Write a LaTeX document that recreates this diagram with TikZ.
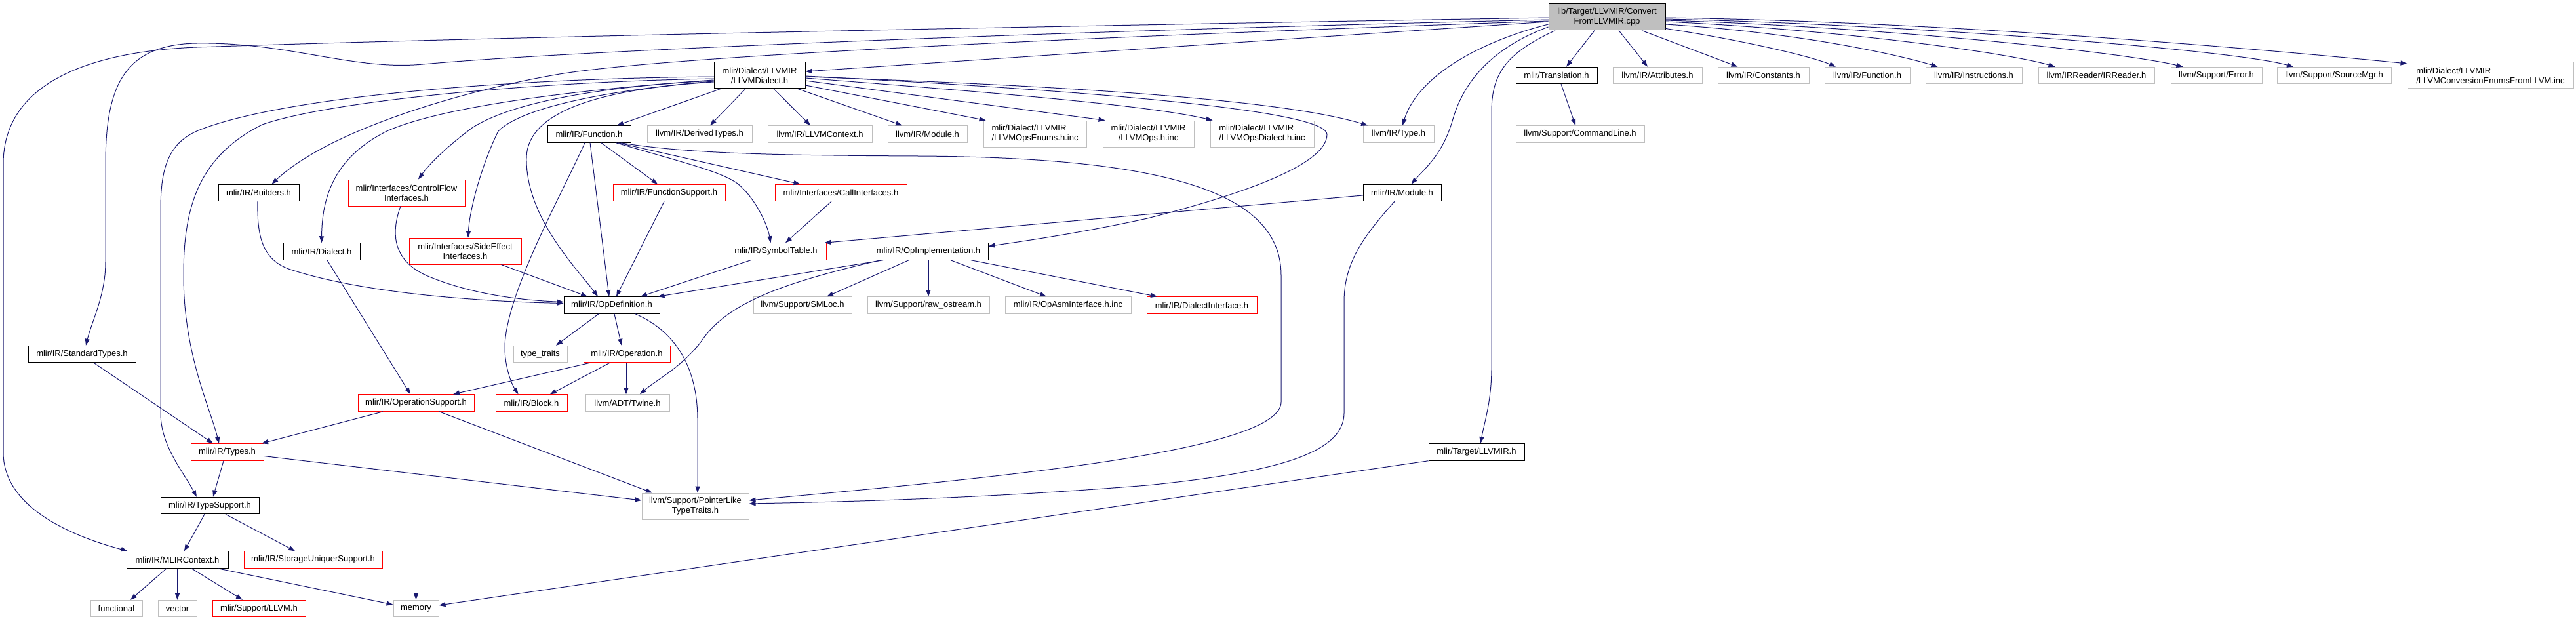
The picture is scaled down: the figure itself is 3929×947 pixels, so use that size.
\documentclass[tikz,border=0pt]{standalone}
\usepackage{fontspec}
\newfontfamily\dfont{Liberation Sans}
\usetikzlibrary{arrows.meta}
\definecolor{mblue}{RGB}{25,25,112}
\definecolor{gborder}{RGB}{191,191,191}
\definecolor{rootfill}{RGB}{191,191,191}
\definecolor{rborder}{RGB}{255,0,0}
\begin{document}
\begin{tikzpicture}[x=1pt,y=-1pt,
 nd/.style={draw, line width=1pt, fill=white, inner sep=0pt, minimum height=25.5pt, font=\dfont\fontsize{13}{15}\selectfont, align=center},
 blknd/.style={nd, draw=black},
 rednd/.style={nd, draw=rborder},
 graynd/.style={nd, draw=gborder},
 rootnd/.style={nd, draw=black, fill=rootfill},
 twoline/.style={minimum height=40pt},
 conn/.style={draw=mblue, line width=1pt, -{Triangle[length=10pt,width=7pt]}},
]
\fill[white] (0,0) rectangle (3929,947);
\useasboundingbox (0,0) rectangle (3929,947);

% row 0
\node[rootnd, twoline, minimum width=178pt] (root) at (2451,26) {lib/Target/LLVMIR/Convert\\FromLLVMIR.cpp};
% row 1
\node[blknd, twoline, minimum width=139pt] (ld) at (1158.5,115) {mlir/Dialect/LLVMIR\\/LLVMDialect.h};
\node[blknd, minimum width=124pt] (transl) at (2374,115) {mlir/Translation.h};
\node[graynd, minimum width=136pt] (attr) at (2528,115) {llvm/IR/Attributes.h};
\node[graynd, minimum width=139pt] (cnst) at (2689.5,115) {llvm/IR/Constants.h};
\node[graynd, minimum width=130pt] (lfunc) at (2848,115) {llvm/IR/Function.h};
\node[graynd, minimum width=147pt] (instr) at (3010.5,115) {llvm/IR/Instructions.h};
\node[graynd, minimum width=177pt] (irr) at (3197.5,115) {llvm/IRReader/IRReader.h};
\node[graynd, minimum width=139pt] (err) at (3380.5,115) {llvm/Support/Error.h};
\node[graynd, minimum width=174pt] (smgr) at (3560,115) {llvm/Support/SourceMgr.h};
\node[graynd, twoline, align=left, minimum width=253pt] (conv) at (3798.5,115) {mlir/Dialect/LLVMIR\\/LLVMConversionEnumsFromLLVM.inc};
% row 2
\node[blknd, minimum width=127pt] (mfunc) at (898.5,204.5) {mlir/IR/Function.h};
\node[graynd, minimum width=160pt] (dtypes) at (1067,204.5) {llvm/IR/DerivedTypes.h};
\node[graynd, minimum width=159pt] (lctx) at (1250.5,204.5) {llvm/IR/LLVMContext.h};
\node[graynd, minimum width=121pt] (lmod) at (1414.5,204.5) {llvm/IR/Module.h};
\node[graynd, twoline, align=left, minimum width=157pt] (openums) at (1578.5,204) {mlir/Dialect/LLVMIR\\/LLVMOpsEnums.h.inc};
\node[graynd, twoline, minimum width=139pt] (ops) at (1751.5,204) {mlir/Dialect/LLVMIR\\/LLVMOps.h.inc};
\node[graynd, twoline, align=left, minimum width=158pt] (opsdia) at (1925,204) {mlir/Dialect/LLVMIR\\/LLVMOpsDialect.h.inc};
\node[graynd, minimum width=108pt] (ltype) at (2133,204.5) {llvm/IR/Type.h};
\node[graynd, minimum width=196pt] (cmdl) at (2410,204.5) {llvm/Support/CommandLine.h};
% row 3
\node[blknd, minimum width=123pt] (build) at (394.5,294) {mlir/IR/Builders.h};
\node[rednd, twoline, minimum width=178pt] (cflow) at (620,294) {mlir/Interfaces/ControlFlow\\Interfaces.h};
\node[rednd, minimum width=171pt] (fsup) at (1020.5,294) {mlir/IR/FunctionSupport.h};
\node[rednd, minimum width=201pt] (calli) at (1282.5,294) {mlir/Interfaces/CallInterfaces.h};
\node[blknd, minimum width=119pt] (mmod) at (2138.5,294) {mlir/IR/Module.h};
% row 4
\node[blknd, minimum width=117pt] (dial) at (490.5,383.5) {mlir/IR/Dialect.h};
\node[rednd, twoline, minimum width=171pt] (side) at (709.5,383) {mlir/Interfaces/SideEffect\\Interfaces.h};
\node[rednd, minimum width=153pt] (symt) at (1183.5,383.5) {mlir/IR/SymbolTable.h};
\node[blknd, minimum width=182pt] (opimpl) at (1416,383.5) {mlir/IR/OpImplementation.h};
% row 5
\node[blknd, minimum width=146pt] (opdef) at (933,465.5) {mlir/IR/OpDefinition.h};
\node[graynd, minimum width=150pt] (smloc) at (1224,465.5) {llvm/Support/SMLoc.h};
\node[graynd, minimum width=186pt] (rawos) at (1416,465.5) {llvm/Support/raw\_ostream.h};
\node[graynd, minimum width=192pt] (opasm) at (1629,465.5) {mlir/IR/OpAsmInterface.h.inc};
\node[rednd, minimum width=168pt] (diali) at (1833,465.5) {mlir/IR/DialectInterface.h};
% row 6
\node[blknd, minimum width=164pt] (stdt) at (125,540) {mlir/IR/StandardTypes.h};
\node[graynd, minimum width=82pt] (ttraits) at (824,540) {type\_traits};
\node[rednd, minimum width=132pt] (oper) at (956,540) {mlir/IR/Operation.h};
% row 7
\node[rednd, minimum width=177pt] (opsup) at (634.5,614.5) {mlir/IR/OperationSupport.h};
\node[rednd, minimum width=109pt] (block) at (810.5,614.5) {mlir/IR/Block.h};
\node[graynd, minimum width=128pt] (twine) at (957,614.5) {llvm/ADT/Twine.h};
% row 8
\node[rednd, minimum width=111pt] (types) at (346.5,689.5) {mlir/IR/Types.h};
\node[blknd, minimum width=146pt] (tgt) at (2252,689.5) {mlir/Target/LLVMIR.h};
% row 9
\node[blknd, minimum width=150pt] (tsup) at (320,771) {mlir/IR/TypeSupport.h};
\node[graynd, twoline, minimum width=163pt] (plike) at (1060.5,772) {llvm/Support/PointerLike\\TypeTraits.h};
% row 10
\node[blknd, minimum width=155pt] (mctx) at (270.5,853.5) {mlir/IR/MLIRContext.h};
\node[rednd, minimum width=211pt] (stor) at (477.5,853.5) {mlir/IR/StorageUniquerSupport.h};
% row 11
\node[graynd, minimum width=79pt] (func) at (177.5,928) {functional};
\node[graynd, minimum width=59pt] (vect) at (270.5,928) {vector};
\node[rednd, minimum width=142pt] (sllvm) at (395,928) {mlir/Support/LLVM.h};
\node[graynd, minimum width=69pt] (mem) at (634.5,928) {memory};

% ---- edges from root
\draw[conn] ([yshift=-7pt]root.west) -- ([yshift=6pt]ld.east);
\draw[conn] ([yshift=-1pt]root.west) .. controls (1700,38) and (800,55) .. (300,72) .. controls (150,78) and (5,120) .. (5,250) -- (5,690) .. controls (5,770) and (100,815) .. ([xshift=2pt]mctx.north west);
\draw[conn] ([yshift=-4pt]root.west) .. controls (1700,45) and (900,75) .. (645,98) .. controls (540,108) and (440,64) .. (300,66) .. controls (190,68) and (161,130) .. (161,250) -- (161,400) .. controls (161,450) and (140,490) .. ([xshift=6pt]stdt.north);
\draw[conn] ([yshift=-6pt]root.west) .. controls (1700,55) and (1000,85) .. (842,115) .. controls (700,140) and (500,200) .. ([xshift=20pt]build.north);
\draw[conn] ([xshift=-19pt]root.south) -- ([xshift=15pt]transl.north);
\draw[conn] ([xshift=18pt]root.south) -- ([xshift=-15pt]attr.north);
\draw[conn] ([xshift=53pt]root.south) -- ([xshift=-39pt]cnst.north);
\draw[conn] ([yshift=3pt]root.south east) .. controls (2650,60) and (2760,85) .. ([xshift=-48pt]lfunc.north);
\draw[conn] ([yshift=-11pt]root.east) .. controls (2750,50) and (2900,85) .. ([xshift=-55pt]instr.north);
\draw[conn] ([yshift=-7pt]root.east) .. controls (2800,45) and (3060,80) .. ([xshift=-63pt]irr.north);
\draw[conn] ([yshift=-5pt]root.east) .. controls (2850,40) and (3230,78) .. ([xshift=-51pt]err.north);
\draw[conn] ([yshift=-3pt]root.east) .. controls (2900,37) and (3400,75) .. ([xshift=-62pt]smgr.north);
\draw[conn] ([yshift=-1pt]root.east) .. controls (2950,33) and (3400,70) .. ([yshift=18pt]conv.west);
\draw[conn] ([yshift=-11pt]root.west) .. controls (2270,60) and (2165,110) .. ([xshift=6pt]ltype.north);
\draw[conn] ([yshift=-15pt]root.west) .. controls (2270,75) and (2230,130) .. (2215,185) .. controls (2200,235) and (2175,255) .. ([xshift=14pt]mmod.north);
\draw[conn] ([xshift=-79pt]root.south) .. controls (2300,80) and (2275,110) .. (2275,170) -- (2275,560) .. controls (2275,610) and (2265,640) .. ([xshift=6pt]tgt.north);
\draw[conn] ([xshift=7pt]transl.south) -- ([xshift=-7pt]cmdl.north);

% ---- edges from LLVMDialect.h
\draw[conn] ([xshift=-59.5pt]ld.south) -- ([xshift=42.5pt]mfunc.north);
\draw[conn] ([xshift=-21.5pt]ld.south) -- ([xshift=16pt]dtypes.north);
\draw[conn] ([xshift=21.5pt]ld.south) -- ([xshift=-14.5pt]lctx.north);
\draw[conn] ([xshift=58.5pt]ld.south) -- ([xshift=-38.5pt]lmod.north);
\draw[conn] ([yshift=-15pt]ld.east) -- ([xshift=4pt]openums.north west);
\draw[conn] ([yshift=-8pt]ld.east) -- ([xshift=4pt]ops.north west);
\draw[conn] ([yshift=-4pt]ld.east) .. controls (1500,140) and (1750,160) .. ([xshift=4pt]opsdia.north west);
\draw[conn] ([yshift=-2pt]ld.east) .. controls (1600,130) and (1950,150) .. ([xshift=-47pt]ltype.north);
\draw[conn] ([yshift=-1pt]ld.east) .. controls (1700,140) and (2024,170) .. (2024,205) .. controls (2024,250) and (1900,295) .. (1750,333) .. controls (1650,355) and (1560,368) .. ([yshift=8pt]opimpl.east);
\draw[conn] ([yshift=-2pt]ld.west) .. controls (750,120) and (420,150) .. (300,200) .. controls (255,220) and (245,260) .. (245,320) -- (245,630) .. controls (245,680) and (280,720) .. ([xshift=-20pt]tsup.north);
\draw[conn] ([yshift=-5pt]ld.west) .. controls (800,125) and (500,155) .. (400,190) .. controls (300,240) and (280,320) .. (280,420) .. controls (280,540) and (320,620) .. ([xshift=-12.5pt]types.north);
\draw[conn] ([yshift=-7pt]ld.west) .. controls (900,135) and (680,160) .. (590,200) .. controls (510,240) and (491,300) .. (dial.north);
\draw[conn] ([yshift=-8pt]ld.west) .. controls (950,130) and (790,150) .. (720,195) .. controls (680,225) and (655,250) .. ([xshift=18pt]cflow.north);
\draw[conn] ([yshift=-9pt]ld.west) .. controls (950,135) and (800,160) .. (760,200) .. controls (735,250) and (716,320) .. ([xshift=4.5pt]side.north);
\draw[conn] ([yshift=-10pt]ld.west) .. controls (930,135) and (805,165) .. (803,240) .. controls (801,330) and (880,410) .. ([xshift=-21pt]opdef.north);

% ---- edges from mlir/IR/Function.h
\draw[conn] ([xshift=-6.5pt]mfunc.south) .. controls (860,290) and (770,450) .. (770,530) .. controls (770,560) and (780,585) .. ([xshift=-20pt]block.north);
\draw[conn] ([xshift=1.5pt]mfunc.south) -- ([xshift=-4pt]opdef.north);
\draw[conn] ([xshift=18.5pt]mfunc.south) -- ([xshift=-17.5pt]fsup.north);
\draw[conn] ([xshift=41pt]mfunc.south) .. controls (1050,250) and (1100,262) .. (1125,280) .. controls (1150,300) and (1170,340) .. ([xshift=-8pt]symt.north);
\draw[conn] ([xshift=44pt]mfunc.south) -- ([xshift=-62pt]calli.north);
\draw[conn] ([xshift=48pt]mfunc.south) .. controls (1050,235) and (1200,237) .. (1400,238) .. controls (1800,240) and (1954,300) .. (1954,420) -- (1954,613) .. controls (1954,690) and (1500,730) .. ([yshift=9pt]plike.east);

% ---- middle layers
\draw[conn] ([xshift=-7.5pt]fsup.south) -- ([xshift=7pt]opdef.north);
\draw[conn] ([xshift=-14.5pt]calli.south) -- ([xshift=14.5pt]symt.north);
\draw[conn] ([xshift=-38.5pt]symt.south) -- ([xshift=44pt]opdef.north);
\draw[conn] ([xshift=-69pt]opimpl.south) -- ([xshift=-3pt]opdef.north east);
\draw[conn] ([xshift=-73pt]opimpl.south) .. controls (1200,430) and (1110,460) .. (1070,520) .. controls (1040,560) and (1000,580) .. ([xshift=19pt]twine.north);
\draw[conn] ([xshift=-30pt]opimpl.south) -- ([xshift=37pt]smloc.north);
\draw[conn] (opimpl.south) -- (rawos.north);
\draw[conn] ([xshift=34pt]opimpl.south) -- ([xshift=-33pt]opasm.north);
\draw[conn] ([xshift=65pt]opimpl.south) -- ([xshift=-68pt]diali.north);
\draw[conn] ([yshift=-4pt]mmod.west) -- ([xshift=-3pt]symt.north east);
\draw[conn] ([xshift=-11.5pt]mmod.south) .. controls (2080,360) and (2050,400) .. (2050,460) -- (2050,630) .. controls (2050,690) and (1950,720) .. (1750,740) .. controls (1500,760) and (1300,765) .. ([yshift=4pt]plike.east);
\draw[conn] (tgt.south west) -- ([yshift=5pt]mem.east);
\draw[conn] ([xshift=-1.5pt]build.south) .. controls (392,360) and (400,395) .. (440,410) .. controls (560,450) and (750,460) .. ([yshift=3pt]opdef.west);
\draw[conn] ([xshift=-9pt]cflow.south) .. controls (598,350) and (595,395) .. (650,420) .. controls (720,450) and (800,458) .. ([yshift=5pt]opdef.west);
\draw[conn] ([xshift=55pt]side.south) -- ([xshift=-37pt]opdef.north);
\draw[conn] ([xshift=8.5pt]dial.south) -- ([xshift=-8.5pt]opsup.north);
\draw[conn] ([xshift=-20pt]opdef.south) -- ([xshift=24pt]ttraits.north);
\draw[conn] ([xshift=4pt]opdef.south) -- ([xshift=-8pt]oper.north);
\draw[conn] ([xshift=36pt]opdef.south) .. controls (1030,505) and (1064,560) .. (1064,640) -- ([xshift=3.5pt]plike.north);
\draw[conn] ([xshift=-56pt]oper.south) -- ([xshift=56.5pt]opsup.north);
\draw[conn] ([xshift=-26pt]oper.south) -- ([xshift=28.5pt]block.north);
\draw[conn] ([xshift=-1pt]oper.south) -- ([xshift=-2pt]twine.north);
\draw[conn] ([xshift=-50.5pt]opsup.south) -- ([xshift=52.5pt]types.north);
\draw[conn] (opsup.south) -- (mem.north);
\draw[conn] ([xshift=35.5pt]opsup.south) -- ([xshift=-65.5pt]plike.north);
\draw[conn] ([xshift=18pt]stdt.south) -- ([xshift=-21.5pt]types.north);
\draw[conn] ([xshift=-5.5pt]types.south) -- ([xshift=5pt]tsup.north);
\draw[conn] ([yshift=-6pt]types.east) -- ([yshift=9pt]plike.west);
\draw[conn] ([xshift=-8pt]tsup.south) -- ([xshift=10.5pt]mctx.north);
\draw[conn] ([xshift=24pt]tsup.south) -- ([xshift=-27.5pt]stor.north);
\draw[conn] ([xshift=-16.5pt]mctx.south) -- ([xshift=21.5pt]func.north);
\draw[conn] (mctx.south) -- (vect.north);
\draw[conn] ([xshift=21.5pt]mctx.south) -- ([xshift=-25pt]sllvm.north);
\draw[conn] ([xshift=61.5pt]mctx.south) -- ([yshift=6pt]mem.west);
\end{tikzpicture}
\end{document}
